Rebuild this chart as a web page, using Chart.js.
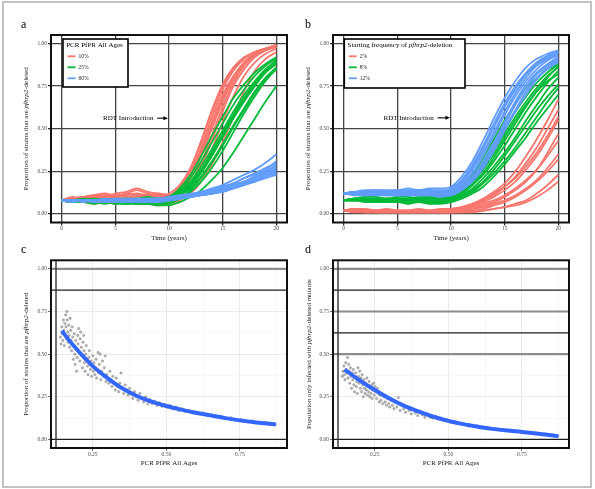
<!DOCTYPE html>
<html>
<head>
<meta charset="utf-8">
<script src="https://cdn.jsdelivr.net/npm/chart.js@4.4.0/dist/chart.umd.min.js"></script>
<style>
  html, body { margin: 0; padding: 0; background: #fff; }
  #fig { position: relative; width: 595px; height: 489px; overflow: hidden; }
  #fig canvas { position: absolute; }
  #frame { position: absolute; left: 2px; top: 1px; width: 586px; height: 483px; border: 2px solid #c2c2c2; pointer-events: none; }
</style>
</head>
<body>
<div id="fig">
  <canvas id="pa" width="297" height="245" style="left:0;top:0"></canvas>
  <canvas id="pb" width="298" height="245" style="left:297px;top:0"></canvas>
  <canvas id="pc" width="297" height="244" style="left:0;top:245px"></canvas>
  <canvas id="pd" width="298" height="244" style="left:297px;top:245px"></canvas>
  <div id="frame"></div>
</div>
<script>
// ---- data ----
const years = [0,1,2,3,4,5,6,7,8,9,10,11,12,13,14,15,16,17,18,19,20];
const timeTicks = [0, 5, 10, 15, 20];
const propTicks = [0, 0.25, 0.5, 0.75, 1];
const propMinor = [0.125, 0.375, 0.625, 0.875];
const pfprTicks = [0.25, 0.5, 0.75];
const pfprMinor = [0.375, 0.625, 0.875];

// panel a : PCR PfPR All Ages
const aGroups = ["10%", "25%", "60%"];
const aPfpr10 = [
  [0.08,0.09,0.10,0.09,0.10,0.11,0.10,0.11,0.10,0.11,0.11,0.16,0.26,0.42,0.60,0.75,0.85,0.91,0.95,0.97,0.98],
  [0.08,0.08,0.09,0.10,0.09,0.10,0.12,0.11,0.10,0.10,0.10,0.14,0.23,0.37,0.54,0.70,0.81,0.89,0.94,0.97,0.99],
  [0.08,0.10,0.09,0.11,0.12,0.11,0.12,0.14,0.12,0.11,0.12,0.17,0.27,0.43,0.61,0.76,0.86,0.92,0.95,0.97,0.99],
  [0.08,0.07,0.08,0.07,0.08,0.07,0.08,0.07,0.06,0.06,0.07,0.10,0.17,0.28,0.43,0.60,0.75,0.85,0.92,0.96,0.98],
  [0.08,0.09,0.08,0.09,0.10,0.10,0.09,0.10,0.11,0.10,0.10,0.13,0.21,0.34,0.50,0.66,0.79,0.88,0.93,0.96,0.98],
  [0.08,0.08,0.07,0.08,0.07,0.08,0.09,0.08,0.08,0.07,0.08,0.11,0.18,0.30,0.46,0.63,0.77,0.87,0.93,0.96,0.98],
  [0.08,0.09,0.10,0.11,0.10,0.12,0.13,0.15,0.13,0.12,0.11,0.15,0.24,0.39,0.57,0.73,0.84,0.91,0.95,0.97,0.99],
  [0.08,0.08,0.09,0.08,0.09,0.09,0.08,0.09,0.09,0.08,0.09,0.11,0.16,0.25,0.38,0.54,0.69,0.81,0.89,0.94,0.97],
  [0.08,0.07,0.07,0.06,0.07,0.06,0.07,0.06,0.06,0.05,0.06,0.08,0.12,0.19,0.29,0.42,0.57,0.72,0.84,0.91,0.95],
  [0.08,0.09,0.09,0.10,0.11,0.10,0.11,0.12,0.11,0.12,0.11,0.14,0.22,0.35,0.52,0.68,0.80,0.89,0.94,0.97,0.99]
];
const aPfpr25 = [
  [0.08,0.08,0.07,0.08,0.07,0.08,0.08,0.07,0.08,0.08,0.09,0.13,0.19,0.28,0.38,0.49,0.60,0.70,0.78,0.85,0.90],
  [0.08,0.07,0.08,0.07,0.08,0.07,0.07,0.08,0.07,0.07,0.08,0.11,0.16,0.24,0.34,0.45,0.56,0.66,0.75,0.83,0.89],
  [0.08,0.08,0.08,0.09,0.08,0.08,0.09,0.08,0.09,0.09,0.10,0.14,0.21,0.31,0.42,0.53,0.64,0.73,0.81,0.87,0.91],
  [0.08,0.07,0.07,0.07,0.06,0.07,0.07,0.06,0.07,0.06,0.07,0.09,0.13,0.19,0.27,0.37,0.48,0.59,0.69,0.78,0.85],
  [0.08,0.08,0.07,0.07,0.07,0.07,0.06,0.06,0.06,0.05,0.05,0.07,0.10,0.14,0.20,0.27,0.36,0.46,0.56,0.66,0.75],
  [0.08,0.08,0.08,0.08,0.09,0.08,0.08,0.08,0.08,0.08,0.09,0.12,0.18,0.26,0.36,0.47,0.58,0.68,0.77,0.84,0.89],
  [0.08,0.07,0.08,0.08,0.07,0.08,0.07,0.07,0.07,0.08,0.08,0.11,0.15,0.22,0.31,0.41,0.52,0.62,0.72,0.80,0.86],
  [0.08,0.08,0.09,0.08,0.08,0.09,0.09,0.09,0.10,0.09,0.10,0.15,0.23,0.34,0.46,0.57,0.68,0.76,0.83,0.88,0.92],
  [0.08,0.07,0.07,0.06,0.07,0.06,0.06,0.07,0.06,0.06,0.06,0.09,0.14,0.21,0.30,0.40,0.51,0.61,0.71,0.79,0.86],
  [0.08,0.08,0.08,0.07,0.08,0.08,0.07,0.08,0.08,0.07,0.08,0.12,0.17,0.25,0.35,0.46,0.57,0.67,0.76,0.83,0.88]
];
const aPfpr60 = [
  [0.08,0.08,0.08,0.08,0.08,0.08,0.08,0.08,0.08,0.09,0.09,0.10,0.11,0.12,0.13,0.15,0.17,0.19,0.22,0.25,0.28],
  [0.08,0.08,0.08,0.07,0.08,0.08,0.07,0.08,0.08,0.08,0.08,0.09,0.10,0.11,0.12,0.13,0.15,0.17,0.19,0.21,0.23],
  [0.08,0.08,0.08,0.08,0.08,0.09,0.09,0.09,0.09,0.09,0.10,0.11,0.12,0.13,0.15,0.17,0.20,0.23,0.26,0.30,0.35],
  [0.08,0.08,0.07,0.08,0.07,0.07,0.08,0.07,0.07,0.08,0.08,0.09,0.10,0.11,0.12,0.14,0.16,0.18,0.20,0.23,0.26],
  [0.08,0.08,0.08,0.08,0.08,0.08,0.08,0.08,0.08,0.08,0.09,0.10,0.11,0.12,0.14,0.16,0.18,0.21,0.24,0.27,0.30],
  [0.08,0.08,0.08,0.07,0.07,0.07,0.07,0.07,0.07,0.07,0.08,0.09,0.10,0.11,0.12,0.13,0.15,0.17,0.19,0.22,0.24],
  [0.08,0.08,0.08,0.08,0.08,0.08,0.08,0.09,0.08,0.09,0.09,0.10,0.11,0.12,0.13,0.15,0.17,0.19,0.22,0.25,0.29],
  [0.08,0.08,0.08,0.08,0.08,0.08,0.08,0.08,0.08,0.08,0.08,0.09,0.10,0.11,0.13,0.14,0.16,0.19,0.21,0.24,0.27],
  [0.08,0.07,0.08,0.08,0.08,0.07,0.08,0.08,0.07,0.08,0.08,0.09,0.10,0.11,0.12,0.14,0.15,0.17,0.20,0.22,0.25],
  [0.08,0.08,0.08,0.08,0.09,0.08,0.09,0.08,0.09,0.09,0.09,0.10,0.11,0.13,0.14,0.16,0.18,0.21,0.23,0.26,0.31]
];

// panel b : starting frequency of pfhrp2-deletion
const bGroups = ["2%", "8%", "12%"];
const bStart2 = [
  [0.02,0.03,0.02,0.02,0.02,0.02,0.02,0.02,0.02,0.02,0.03,0.04,0.06,0.09,0.13,0.18,0.25,0.34,0.44,0.55,0.67],
  [0.02,0.02,0.02,0.02,0.02,0.02,0.02,0.02,0.02,0.02,0.02,0.03,0.05,0.08,0.11,0.16,0.22,0.30,0.39,0.50,0.61],
  [0.02,0.03,0.03,0.02,0.03,0.02,0.02,0.02,0.02,0.03,0.03,0.04,0.06,0.08,0.12,0.16,0.21,0.28,0.36,0.46,0.57],
  [0.02,0.02,0.01,0.01,0.01,0.01,0.01,0.01,0.01,0.01,0.01,0.02,0.03,0.05,0.07,0.10,0.14,0.19,0.26,0.36,0.47],
  [0.02,0.02,0.02,0.02,0.02,0.01,0.01,0.02,0.02,0.02,0.02,0.03,0.04,0.06,0.08,0.11,0.15,0.20,0.26,0.34,0.43],
  [0.02,0.02,0.02,0.02,0.01,0.01,0.01,0.01,0.01,0.01,0.01,0.02,0.03,0.04,0.06,0.08,0.11,0.15,0.20,0.27,0.35],
  [0.02,0.02,0.02,0.01,0.01,0.01,0.01,0.01,0.01,0.01,0.01,0.02,0.02,0.03,0.05,0.07,0.10,0.14,0.19,0.25,0.32],
  [0.02,0.01,0.01,0.01,0.01,0.01,0.01,0.01,0.01,0.01,0.01,0.01,0.02,0.02,0.03,0.04,0.06,0.08,0.12,0.17,0.23],
  [0.02,0.02,0.01,0.01,0.01,0.01,0.01,0.01,0.01,0.01,0.01,0.01,0.01,0.02,0.03,0.04,0.05,0.07,0.10,0.14,0.19],
  [0.02,0.03,0.02,0.02,0.02,0.02,0.02,0.03,0.02,0.02,0.02,0.03,0.05,0.07,0.10,0.14,0.19,0.26,0.34,0.44,0.55]
];
const bStart8 = [
  [0.08,0.09,0.09,0.08,0.09,0.09,0.08,0.09,0.09,0.09,0.10,0.14,0.20,0.28,0.37,0.47,0.57,0.66,0.74,0.81,0.86],
  [0.08,0.08,0.09,0.09,0.08,0.08,0.09,0.08,0.08,0.08,0.09,0.12,0.17,0.24,0.33,0.43,0.53,0.63,0.72,0.80,0.87],
  [0.08,0.08,0.08,0.07,0.07,0.07,0.07,0.07,0.07,0.07,0.08,0.10,0.14,0.19,0.26,0.34,0.43,0.52,0.61,0.69,0.76],
  [0.08,0.09,0.08,0.08,0.08,0.07,0.08,0.08,0.07,0.07,0.08,0.10,0.13,0.18,0.24,0.31,0.39,0.48,0.57,0.66,0.74],
  [0.08,0.09,0.09,0.09,0.09,0.09,0.09,0.10,0.10,0.09,0.10,0.14,0.21,0.30,0.40,0.50,0.60,0.69,0.77,0.83,0.88],
  [0.08,0.08,0.08,0.08,0.07,0.07,0.07,0.07,0.06,0.06,0.07,0.09,0.12,0.16,0.22,0.29,0.37,0.45,0.54,0.62,0.70],
  [0.08,0.08,0.08,0.08,0.08,0.08,0.08,0.08,0.08,0.08,0.09,0.12,0.17,0.23,0.31,0.40,0.50,0.60,0.69,0.77,0.84],
  [0.08,0.09,0.09,0.08,0.08,0.08,0.08,0.09,0.08,0.08,0.09,0.13,0.18,0.26,0.35,0.45,0.55,0.64,0.72,0.78,0.82],
  [0.08,0.08,0.07,0.07,0.07,0.07,0.06,0.07,0.07,0.07,0.08,0.11,0.15,0.21,0.28,0.36,0.45,0.55,0.64,0.73,0.80],
  [0.08,0.09,0.10,0.10,0.09,0.10,0.10,0.09,0.10,0.10,0.11,0.16,0.23,0.33,0.44,0.55,0.65,0.74,0.80,0.85,0.88]
];
const bStart12 = [
  [0.12,0.13,0.13,0.12,0.13,0.13,0.13,0.14,0.13,0.13,0.14,0.19,0.27,0.38,0.51,0.63,0.74,0.82,0.88,0.92,0.95],
  [0.12,0.12,0.12,0.13,0.12,0.12,0.13,0.12,0.12,0.12,0.13,0.17,0.24,0.34,0.46,0.58,0.69,0.78,0.85,0.90,0.93],
  [0.12,0.13,0.14,0.14,0.14,0.14,0.15,0.14,0.15,0.15,0.16,0.22,0.31,0.43,0.56,0.68,0.78,0.86,0.91,0.94,0.96],
  [0.12,0.12,0.11,0.11,0.11,0.11,0.11,0.11,0.11,0.11,0.11,0.14,0.19,0.27,0.37,0.49,0.60,0.70,0.79,0.85,0.89],
  [0.12,0.13,0.13,0.13,0.13,0.12,0.13,0.13,0.13,0.13,0.13,0.18,0.26,0.36,0.48,0.60,0.71,0.80,0.87,0.91,0.94],
  [0.12,0.12,0.12,0.12,0.12,0.11,0.12,0.12,0.12,0.11,0.12,0.15,0.21,0.29,0.40,0.52,0.64,0.74,0.82,0.87,0.91],
  [0.12,0.13,0.13,0.14,0.13,0.13,0.14,0.13,0.14,0.14,0.14,0.20,0.29,0.40,0.53,0.65,0.75,0.83,0.89,0.93,0.95],
  [0.12,0.12,0.12,0.12,0.11,0.12,0.12,0.11,0.12,0.12,0.12,0.16,0.22,0.31,0.42,0.54,0.66,0.76,0.83,0.88,0.92],
  [0.12,0.11,0.11,0.12,0.11,0.11,0.11,0.11,0.11,0.10,0.11,0.14,0.20,0.28,0.38,0.50,0.61,0.72,0.80,0.86,0.90],
  [0.12,0.13,0.13,0.13,0.13,0.14,0.13,0.14,0.14,0.13,0.15,0.20,0.28,0.39,0.51,0.63,0.73,0.82,0.88,0.92,0.95]
];

// panel c : PfPR vs proportion of strains deleted
const cPfpr = [0.140,0.142,0.145,0.147,0.148,0.150,0.152,0.153,0.155,0.156,0.158,0.159,0.160,0.162,0.163,0.165,0.166,0.168,0.170,0.171,0.173,0.175,0.176,0.178,0.180,0.182,0.184,0.185,0.187,0.189,0.190,0.192,0.194,0.195,0.197,0.199,0.200,0.202,0.204,0.206,0.207,0.209,0.211,0.213,0.215,0.217,0.219,0.220,0.222,0.224,0.226,0.228,0.230,0.232,0.234,0.236,0.238,0.240,0.242,0.244,0.246,0.248,0.250,0.252,0.254,0.257,0.259,0.261,0.263,0.265,0.268,0.270,0.272,0.275,0.277,0.280,0.283,0.286,0.289,0.292,0.295,0.298,0.301,0.305,0.308,0.312,0.315,0.318,0.322,0.326,0.330,0.334,0.338,0.342,0.346,0.350,0.355,0.360,0.365,0.370,0.375,0.380,0.386,0.392,0.398,0.404,0.410,0.416,0.423,0.430,0.437,0.444,0.452,0.460,0.468,0.476,0.485,0.494,0.503,0.512,0.522,0.532,0.542,0.553,0.564,0.576,0.588,0.600,0.613,0.626,0.640,0.655,0.670,0.686,0.702,0.719,0.736,0.754,0.773,0.792,0.812,0.833,0.855,0.870];
const cDeleted = [0.60,0.56,0.66,0.62,0.58,0.70,0.64,0.55,0.68,0.61,0.73,0.66,0.59,0.75,0.70,0.63,0.57,0.67,0.61,0.54,0.71,0.64,0.58,0.52,0.66,0.60,0.47,0.55,0.62,0.50,0.44,0.58,0.53,0.40,0.48,0.61,0.56,0.65,0.51,0.46,0.59,0.63,0.54,0.49,0.42,0.57,0.61,0.52,0.45,0.40,0.50,0.55,0.47,0.43,0.38,0.48,0.52,0.44,0.41,0.46,0.37,0.43,0.49,0.40,0.45,0.38,0.42,0.47,0.36,0.41,0.51,0.39,0.44,0.50,0.35,0.40,0.46,0.37,0.42,0.49,0.34,0.38,0.36,0.33,0.40,0.35,0.31,0.37,0.33,0.29,0.36,0.31,0.28,0.33,0.39,0.30,0.27,0.32,0.29,0.26,0.30,0.27,0.24,0.28,0.25,0.23,0.27,0.24,0.22,0.25,0.21,0.235,0.21,0.225,0.20,0.215,0.195,0.205,0.19,0.20,0.18,0.19,0.17,0.18,0.165,0.17,0.155,0.16,0.15,0.155,0.14,0.145,0.133,0.135,0.124,0.127,0.116,0.117,0.108,0.108,0.100,0.098,0.091,0.089];
const cFitX = [0.145,0.15,0.2,0.25,0.3,0.35,0.4,0.45,0.5,0.55,0.6,0.65,0.7,0.75,0.8,0.85,0.872];
const cFitY = [0.638,0.625,0.52,0.43,0.36,0.30,0.255,0.222,0.196,0.175,0.157,0.141,0.125,0.112,0.101,0.092,0.088];

// panel d : PfPR vs population only infected with deleted mutants
const dPfpr = [0.140,0.142,0.145,0.147,0.149,0.151,0.153,0.155,0.157,0.159,0.161,0.163,0.165,0.167,0.169,0.171,0.173,0.175,0.177,0.179,0.181,0.183,0.185,0.187,0.189,0.191,0.193,0.195,0.197,0.199,0.201,0.203,0.205,0.207,0.209,0.211,0.213,0.215,0.217,0.219,0.221,0.223,0.225,0.227,0.229,0.231,0.233,0.235,0.237,0.239,0.241,0.243,0.246,0.248,0.250,0.253,0.256,0.259,0.262,0.265,0.268,0.271,0.274,0.277,0.281,0.285,0.289,0.293,0.297,0.301,0.305,0.310,0.315,0.320,0.325,0.330,0.336,0.342,0.348,0.354,0.360,0.367,0.374,0.381,0.388,0.396,0.404,0.412,0.420,0.429,0.438,0.447,0.456,0.466,0.476,0.486,0.497,0.508,0.520,0.532,0.544,0.557,0.570,0.584,0.598,0.613,0.628,0.644,0.661,0.678,0.696,0.714,0.733,0.752,0.772,0.793,0.814,0.836,0.858,0.872];
const dOnlyDeleted = [0.37,0.40,0.43,0.38,0.35,0.45,0.41,0.39,0.48,0.36,0.44,0.40,0.33,0.42,0.37,0.30,0.39,0.35,0.41,0.32,0.28,0.36,0.39,0.31,0.34,0.27,0.42,0.37,0.33,0.40,0.30,0.36,0.28,0.38,0.32,0.25,0.35,0.30,0.27,0.33,0.29,0.36,0.26,0.31,0.28,0.34,0.25,0.30,0.27,0.32,0.24,0.29,0.33,0.26,0.31,0.28,0.24,0.30,0.27,0.22,0.26,0.23,0.27,0.21,0.25,0.22,0.20,0.24,0.21,0.19,0.23,0.20,0.18,0.215,0.19,0.245,0.17,0.20,0.18,0.16,0.19,0.17,0.15,0.175,0.155,0.14,0.165,0.145,0.13,0.15,0.13,0.125,0.135,0.12,0.125,0.11,0.115,0.10,0.105,0.094,0.096,0.087,0.088,0.079,0.079,0.071,0.070,0.064,0.062,0.056,0.054,0.049,0.047,0.043,0.040,0.035,0.032,0.027,0.022,0.020];
const dFitX = [0.147,0.2,0.25,0.3,0.35,0.4,0.45,0.5,0.55,0.6,0.65,0.7,0.75,0.8,0.85,0.874];
const dFitY = [0.41,0.345,0.29,0.24,0.197,0.163,0.133,0.109,0.09,0.075,0.062,0.052,0.044,0.035,0.025,0.019];

// reference lines drawn across panels c and d
const cRefGray = [1];
const cRefDark = [0.875, 0];
const dRefGray = [1, 0.75, 0.5];
const dRefDark = [0.875, 0.625, 0];
const refVert = [0.125];

// ---- drawing ----
const SERIF = '"Liberation Serif", "Times New Roman", serif';
const groupColors = ["#F8766D", "#00BA38", "#619CFF"];
Chart.defaults.font.family = SERIF;

const deletedTitle = [["Proportion of strains that are ", false], ["pfhrp2", true], ["-deleted", false]];

function drawRich(ctx, parts, x, y, size, align) {
  let w = 0;
  parts.forEach(p => {
    ctx.font = (p[1] ? "italic " : "") + size + "px " + SERIF;
    w += ctx.measureText(p[0]).width;
  });
  let cx = align === "center" ? x - w / 2 : x;
  ctx.textAlign = "left";
  parts.forEach(p => {
    ctx.font = (p[1] ? "italic " : "") + size + "px " + SERIF;
    ctx.fillText(p[0], cx, y);
    cx += ctx.measureText(p[0]).width;
  });
}

function makeDecor(cfg) {
  return {
    id: "decor",
    beforeDatasetsDraw(chart) {
      const { ctx, chartArea: a, scales: { x, y } } = chart;
      ctx.save();
      (cfg.refGray || []).forEach(v => {
        const py = y.getPixelForValue(v);
        ctx.strokeStyle = "#8c8c8c"; ctx.lineWidth = 2.2;
        ctx.beginPath(); ctx.moveTo(a.left, py); ctx.lineTo(a.right, py); ctx.stroke();
      });
      (cfg.refDark || []).forEach(v => {
        const py = y.getPixelForValue(v);
        ctx.strokeStyle = "#1e1e1e"; ctx.lineWidth = 1.2;
        ctx.beginPath(); ctx.moveTo(a.left, py); ctx.lineTo(a.right, py); ctx.stroke();
      });
      (cfg.refV || []).forEach(v => {
        const px = x.getPixelForValue(v);
        ctx.strokeStyle = "#333"; ctx.lineWidth = 1.4;
        ctx.beginPath(); ctx.moveTo(px, a.top); ctx.lineTo(px, a.bottom); ctx.stroke();
      });
      ctx.restore();
    },
    afterDraw(chart) {
      const { ctx, chartArea: a, scales: { x, y } } = chart;
      ctx.save();
      // panel border
      ctx.strokeStyle = "#111"; ctx.lineWidth = 2;
      ctx.strokeRect(a.left, a.top, a.right - a.left, a.bottom - a.top);

      ctx.fillStyle = "#000";
      ctx.textBaseline = "alphabetic";
      ctx.font = "12px " + SERIF; ctx.textAlign = "left";
      ctx.fillText(cfg.letter[0], cfg.letter[1], cfg.letter[2]);

      // axis titles
      ctx.fillStyle = "#1a1a1a";
      ctx.textBaseline = "middle";
      drawRich(ctx, cfg.xTitle, (a.left + a.right) / 2, cfg.xTitleY, 7, "center");
      ctx.save();
      ctx.translate(cfg.yTitleX, (a.top + a.bottom) / 2);
      ctx.rotate(-Math.PI / 2);
      drawRich(ctx, cfg.yTitle, 0, 0, 7, "center");
      ctx.restore();

      // legend box
      if (cfg.legend) {
        const L = cfg.legend;
        ctx.fillStyle = "#fff";
        ctx.fillRect(L.x, L.y, L.w, L.h);
        ctx.strokeStyle = "#000"; ctx.lineWidth = 1.6;
        ctx.strokeRect(L.x, L.y, L.w, L.h);
        ctx.fillStyle = "#000";
        drawRich(ctx, L.title, L.x + 3.2, L.y + 6.5, 7, "left");
        L.labels.forEach((lab, i) => {
          const ly = L.y + 17.3 + i * 11;
          ctx.strokeStyle = groupColors[i]; ctx.lineWidth = 1.8;
          ctx.beginPath(); ctx.moveTo(L.x + 4.5, ly); ctx.lineTo(L.x + 12.5, ly); ctx.stroke();
          ctx.fillStyle = "#222";
          ctx.font = "5.5px " + SERIF; ctx.textAlign = "left";
          ctx.fillText(lab, L.x + 15.5, ly);
        });
      }

      // RDT introduction arrow
      if (cfg.rdt) {
        const r = cfg.rdt;
        const py = y.getPixelForValue(r.y);
        ctx.fillStyle = "#000";
        ctx.font = "7px " + SERIF; ctx.textAlign = "right";
        ctx.fillText("RDT Introduction", x.getPixelForValue(r.textEnd), py);
        const x0 = x.getPixelForValue(r.from), x1 = x.getPixelForValue(r.to);
        ctx.strokeStyle = "#000"; ctx.lineWidth = 1.1;
        ctx.beginPath(); ctx.moveTo(x0, py); ctx.lineTo(x1 - 3, py); ctx.stroke();
        ctx.beginPath(); ctx.moveTo(x1, py); ctx.lineTo(x1 - 4.5, py - 2); ctx.lineTo(x1 - 4.5, py + 2); ctx.closePath(); ctx.fill();
      }
      ctx.restore();
    }
  };
}

function setTicks(list) {
  return s => { s.ticks = list.map(v => ({ value: v })); };
}

function makeScales(kind) {
  const tickFont = { family: SERIF, size: 5.5 };
  if (kind === "time") {
    const grid = { color: "#444", lineWidth: 1.3, tickLength: 3, tickColor: "#333" };
    return {
      x: { type: "linear", min: -1, max: 21, afterBuildTicks: setTicks(timeTicks), afterFit: s => { s.height = 14; },
           grid, border: { display: false },
           ticks: { font: tickFont, color: "#4d4d4d", padding: 0, autoSkip: false, maxRotation: 0, callback: v => String(v) } },
      y: { min: -0.05, max: 1.05, afterBuildTicks: setTicks(propTicks), afterFit: s => { s.width = 22; },
           grid, border: { display: false },
           ticks: { font: tickFont, color: "#4d4d4d", padding: 1, autoSkip: false, callback: v => v.toFixed(2) } }
    };
  }
  const lightGrid = major => ({
    color: c => (c.tick && major.includes(c.tick.value)) ? "#e4e4e4" : "#f3f3f3",
    lineWidth: 0.7, tickLength: 3,
    tickColor: c => (c.tick && major.includes(c.tick.value)) ? "#333" : "rgba(0,0,0,0)"
  });
  return {
    x: { type: "linear", min: 0.108, max: 0.91, afterBuildTicks: setTicks(pfprTicks.concat(pfprMinor)), afterFit: s => { s.height = 14; },
         grid: lightGrid(pfprTicks), border: { display: false },
         ticks: { font: tickFont, color: "#4d4d4d", padding: 0, autoSkip: false, maxRotation: 0,
                  callback: v => pfprTicks.includes(v) ? v.toFixed(2) : "" } },
    y: { min: -0.05, max: 1.05, afterBuildTicks: setTicks(propTicks.concat(propMinor)), afterFit: s => { s.width = 22; },
         grid: lightGrid(propTicks), border: { display: false },
         ticks: { font: tickFont, color: "#4d4d4d", padding: 1, autoSkip: false,
                  callback: v => propTicks.includes(v) ? v.toFixed(2) : "" } }
  };
}

function runSets(groups) {
  const sets = [];
  groups.forEach((runs, k) => {
    runs.forEach(run => {
      sets.push({
        data: years.map((t, i) => ({ x: t, y: run[i] })),
        showLine: true, borderColor: groupColors[k], borderWidth: 1.8,
        pointRadius: 0, cubicInterpolationMode: "monotone", order: groups.length - k
      });
    });
  });
  return sets;
}

function scatterSets(xs, ys, fx, fy) {
  return [
    { data: fx.map((v, i) => ({ x: v, y: fy[i] })), showLine: true, borderColor: "#3366FF",
      borderWidth: 4, pointRadius: 0, cubicInterpolationMode: "monotone", order: 0 },
    { data: xs.map((v, i) => ({ x: v, y: ys[i] })), pointRadius: 1.2,
      backgroundColor: "rgba(150,150,150,0.65)", borderColor: "rgba(105,105,105,0.7)", borderWidth: 0.5, order: 1 }
  ];
}

function makePanel(id, datasets, kind, padding, cfg) {
  new Chart(document.getElementById(id), {
    type: "scatter",
    data: { datasets },
    options: {
      responsive: false, animation: false, events: [], devicePixelRatio: 1,
      layout: { padding },
      scales: makeScales(kind),
      plugins: { legend: { display: false }, tooltip: { enabled: false } }
    },
    plugins: [makeDecor(cfg)]
  });
}

const timeTitle = [["Time (years)", false]];
const pfprTitle = [["PCR PfPR All Ages", false]];

makePanel("pa", runSets([aPfpr10, aPfpr25, aPfpr60]), "time",
  { left: 29, right: 10, top: 35, bottom: 8.5 },
  { letter: ["a", 21, 28], xTitle: timeTitle, xTitleY: 238, yTitle: deletedTitle, yTitleX: 26,
    legend: { x: 63, y: 39, w: 65, h: 48, title: [["PCR PfPR All Ages", false]], labels: aGroups },
    rdt: { y: 0.562, textEnd: 8.55, from: 8.9, to: 9.9 } });

makePanel("pb", runSets([bStart2, bStart8, bStart12]), "time",
  { left: 14, right: 26, top: 35, bottom: 8.5 },
  { letter: ["b", 8, 28], xTitle: timeTitle, xTitleY: 238, yTitle: deletedTitle, yTitleX: 11.5,
    legend: { x: 47.3, y: 39, w: 120.7, h: 49,
              title: [["Starting frequency of ", false], ["pfhrp2", true], ["-deletion", false]], labels: bGroups },
    rdt: { y: 0.564, textEnd: 8.4, from: 8.75, to: 9.9 } });

makePanel("pc", scatterSets(cPfpr, cDeleted, cFitX, cFitY), "pfpr",
  { left: 29, right: 10, top: 15.3, bottom: 27 },
  { letter: ["c", 21, 8], xTitle: pfprTitle, xTitleY: 218.3, yTitle: deletedTitle, yTitleX: 26,
    refGray: cRefGray, refDark: cRefDark, refV: refVert });

makePanel("pd", scatterSets(dPfpr, dOnlyDeleted, dFitX, dFitY), "pfpr",
  { left: 14, right: 26, top: 15.3, bottom: 27 },
  { letter: ["d", 8, 8], xTitle: pfprTitle, xTitleY: 218.3,
    yTitle: [["Population only infected with ", false], ["pfhrp2", true], ["-deleted mutants", false]], yTitleX: 12,
    refGray: dRefGray, refDark: dRefDark, refV: refVert });
</script>
</body>
</html>
